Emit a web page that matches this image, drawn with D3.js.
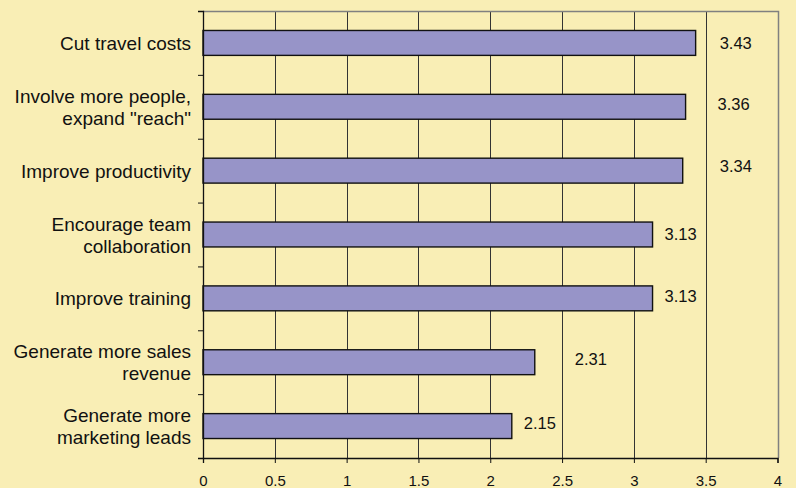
<!DOCTYPE html>
<html>
<head>
<meta charset="utf-8">
<script src="https://cdn.jsdelivr.net/npm/d3@7"></script>
<style>
  html, body { margin: 0; padding: 0; background: #F9EEB5; }
  svg { display: block; }
  text { font-family: "Liberation Sans", Arial, sans-serif; fill: #111; }
</style>
</head>
<body>
<svg id="chart" width="796" height="488"></svg>
<script>
// ---- data ----
const categories = [
  ["Cut travel costs"],
  ["Involve more people,", "expand \"reach\""],
  ["Improve productivity"],
  ["Encourage team", "collaboration"],
  ["Improve training"],
  ["Generate more sales", "revenue"],
  ["Generate more", "marketing leads"]
];
const values = [3.43, 3.36, 3.34, 3.13, 3.13, 2.31, 2.15];
const valueLabels = ["3.43", "3.36", "3.34", "3.13", "3.13", "2.31", "2.15"];
const xTicks = [0, 0.5, 1, 1.5, 2, 2.5, 3, 3.5, 4];

// ---- layout (label placement as in the original, in px) ----
const labelDx = [24, 32, 37, 12, 12, 40, 12];
const labelDy = [0, -2.5, -5, -1, -2, -3, -3];

const pLeft = 203, pRight = 777.5, pTop = 11, pBottom = 458;
const svg = d3.select("#chart");

const x = d3.scaleLinear().domain([0, 4]).range([pLeft, pRight]);
const y = d3.scaleBand().domain(d3.range(categories.length)).range([pTop, pBottom]).padding(0);
const barH = y.bandwidth() * 0.39;

// gridlines
svg.append("g").selectAll("line")
  .data(xTicks.filter(t => t > 0 && t < 4))
  .join("line")
  .attr("x1", d => Math.round(x(d)) + 0.5).attr("x2", d => Math.round(x(d)) + 0.5)
  .attr("y1", pTop).attr("y2", pBottom)
  .attr("stroke", "#333").attr("stroke-width", 1);

// plot border (top & right)
svg.append("path")
  .attr("d", `M${pLeft},${pTop + 0.5}H${Math.round(pRight) + 0.5}V${pBottom}`)
  .attr("fill", "none").attr("stroke", "#808080").attr("stroke-width", 1.5);

// bars
svg.append("g").selectAll("rect")
  .data(values)
  .join("rect")
  .attr("x", x(0))
  .attr("y", (d, i) => y(i) + y.bandwidth() / 2 - barH / 2)
  .attr("width", d => x(d) - x(0))
  .attr("height", barH)
  .attr("fill", "#9794C8")
  .attr("stroke", "#111")
  .attr("stroke-width", 1.4);

// x axis
const xAxis = d3.axisBottom(x).tickValues(xTicks).tickSize(5).tickPadding(12)
  .tickFormat(d => String(d));
const gx = svg.append("g").attr("transform", `translate(0,${pBottom})`).call(xAxis);
gx.select(".domain").attr("stroke", "#111").attr("stroke-width", 1.3);
gx.selectAll(".tick line").attr("stroke", "#111");
gx.selectAll(".tick text").attr("font-size", 15).attr("fill", "#111")
  .attr("font-family", "'Liberation Sans', Arial, sans-serif");

// y axis (category boundaries ticks)
const yEdge = d3.scaleLinear().domain([0, categories.length]).range([pTop, pBottom]);
const gy = svg.append("g").attr("transform", `translate(${pLeft},0)`)
  .call(d3.axisLeft(yEdge).tickValues(d3.range(categories.length + 1)).tickSize(5).tickFormat(""));
gy.select(".domain").attr("stroke", "#111").attr("stroke-width", 1.3);
gy.selectAll(".tick line").attr("stroke", "#111");

// category labels
const lineH = 22;
const cat = svg.append("g").selectAll("text")
  .data(categories)
  .join("text")
  .attr("text-anchor", "end")
  .attr("font-size", 19)
  .attr("x", 191)
  .attr("y", (d, i) => y(i) + y.bandwidth() / 2 - (d.length - 1) * lineH / 2)
  .attr("dominant-baseline", "central");
cat.selectAll("tspan")
  .data(d => d)
  .join("tspan")
  .attr("x", 191)
  .attr("dy", (d, j) => j === 0 ? 0 : lineH)
  .text(d => d);

// value labels
svg.append("g").selectAll("text")
  .data(values)
  .join("text")
  .attr("font-size", 16.5)
  .attr("x", (d, i) => x(d) + labelDx[i])
  .attr("y", (d, i) => y(i) + y.bandwidth() / 2 + labelDy[i])
  .attr("dominant-baseline", "central")
  .text((d, i) => valueLabels[i]);
</script>
</body>
</html>
